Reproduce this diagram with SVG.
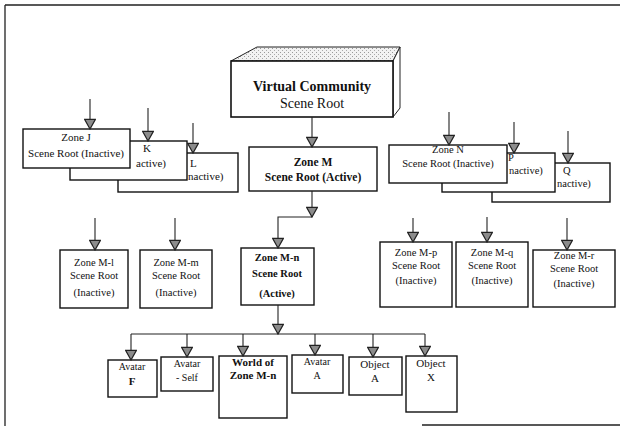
<svg xmlns="http://www.w3.org/2000/svg" width="620" height="426" viewBox="0 0 620 426">
<style>
.box{fill:#fff;stroke:#111;stroke-width:1.4}
.ln{fill:none;stroke:#222;stroke-width:1.1}
.ar{fill:none;stroke:#222;stroke-width:1.1;marker-end:url(#tri)}
text{font-family:"Liberation Serif","Times New Roman",serif;fill:#111;text-anchor:middle}
.st{text-anchor:start}
.t11{font-size:11px}
.t105{font-size:10.5px}
.b{font-weight:bold}
.t10{font-size:10px}
</style>
<defs>
<marker id="tri" markerUnits="userSpaceOnUse" markerWidth="12" markerHeight="12" viewBox="0 0 10 10" refX="9" refY="5" orient="auto">
<path d="M1,0.5 L9,5 L1,9.5 Z" fill="#8c8c8c" stroke="#222" stroke-width="1"/>
</marker>
<pattern id="stip" width="4" height="4" patternUnits="userSpaceOnUse">
<rect width="4" height="4" fill="#f2f2f2"/>
<rect x="0" y="0" width="1" height="1" fill="#999"/>
<rect x="2" y="2" width="1" height="1" fill="#aaa"/>
</pattern>
</defs>
<g id="frame" fill="none" stroke="#222" stroke-width="1.3">
<path d="M5,5 L620,5 M5,5 L5,426 M422,425 L620,425"/>
</g>
<g id="root">
<polygon points="231,61 257,47 400,47 393,61" fill="url(#stip)" stroke="#222" stroke-width="1"/>
<polygon points="393,61 400,47 400,108 393,117" fill="#fff" stroke="#222" stroke-width="1"/>
<rect x="231" y="61" width="162" height="56" fill="#fff" stroke="#111" stroke-width="1.6"/>
<text x="312" y="91" font-size="14" class="b">Virtual Community</text>
<text x="312" y="108" font-size="14">Scene Root</text>
</g>
<g id="zoneL">
<rect class="box" x="118" y="153" width="120" height="39"/>
<text class="t11 st" x="190" y="167">L</text>
<text class="t11 st" x="188" y="180">nactive)</text>
</g>
<g id="zoneK">
<rect class="box" x="70" y="141" width="117" height="39"/>
<text class="t11 st" x="143" y="152">K</text>
<text class="t11 st" x="136" y="167">active)</text>
</g>
<g id="zoneJ">
<rect class="box" x="23" y="129" width="107" height="39"/>
<text class="t11" x="76" y="141">Zone J</text>
<text class="t11" x="76" y="157">Scene Root (Inactive)</text>
</g>
<g id="zoneQ">
<rect class="box" x="492" y="163" width="118" height="39"/>
<text class="t105 st" x="563" y="174">Q</text>
<text class="t105 st" x="557" y="187">nactive)</text>
</g>
<g id="zoneP">
<rect class="box" x="442" y="153" width="113" height="39"/>
<text class="t105 st" x="508" y="161">P</text>
<text class="t105 st" x="509" y="174">nactive)</text>
</g>
<g id="zoneN">
<rect class="box" x="389" y="145" width="118" height="38"/>
<text class="t105" x="448" y="153">Zone N</text>
<text class="t105" x="448" y="167">Scene Root (Inactive)</text>
</g>
<g id="zoneM">
<rect class="box" x="249" y="147" width="128" height="44" stroke-width="1.8"/>
<text class="b" font-size="11.5" x="313" y="166">Zone M</text>
<text class="b" font-size="11.5" x="313" y="181">Scene Root (Active)</text>
</g>
<g id="zoneMl">
<rect class="box" x="60" y="250" width="68" height="58"/>
<text class="t105" x="94" y="266">Zone M-l</text>
<text class="t105" x="94" y="279">Scene Root</text>
<text class="t105" x="94" y="296">(Inactive)</text>
</g>
<g id="zoneMm">
<rect class="box" x="140" y="250" width="72" height="58"/>
<text class="t105" x="176" y="266">Zone M-m</text>
<text class="t105" x="176" y="279">Scene Root</text>
<text class="t105" x="176" y="296">(Inactive)</text>
</g>
<g id="zoneMn">
<rect class="box" x="241" y="248" width="73" height="57" stroke-width="1.8"/>
<text class="t105 b" x="277" y="261">Zone M-n</text>
<text class="t105 b" x="277" y="277">Scene Root</text>
<text class="t105 b" x="277" y="297">(Active)</text>
</g>
<g id="zoneMp">
<rect class="box" x="380" y="242" width="72" height="65"/>
<text class="t105" x="416" y="256">Zone M-p</text>
<text class="t105" x="416" y="269">Scene Root</text>
<text class="t105" x="416" y="284">(Inactive)</text>
</g>
<g id="zoneMq">
<rect class="box" x="456" y="242" width="72" height="65"/>
<text class="t105" x="492" y="256">Zone M-q</text>
<text class="t105" x="492" y="269">Scene Root</text>
<text class="t105" x="492" y="284">(Inactive)</text>
</g>
<g id="zoneMr">
<rect class="box" x="533" y="250" width="82" height="57"/>
<text class="t105" x="574" y="259">Zone M-r</text>
<text class="t105" x="574" y="272">Scene Root</text>
<text class="t105" x="574" y="287">(Inactive)</text>
</g>
<g id="avatarF">
<rect class="box" x="108" y="360" width="49" height="37"/>
<text class="t10" x="132" y="370">Avatar</text>
<text class="t11 b" x="132" y="385">F</text>
</g>
<g id="avatarSelf">
<rect class="box" x="161" y="357" width="52" height="34"/>
<text class="t10" x="187" y="367">Avatar</text>
<text class="t10" x="187" y="381">- Self</text>
</g>
<g id="world">
<rect class="box" x="219" y="356" width="68" height="62"/>
<text class="b" font-size="11" x="253" y="366">World of</text>
<text class="b" font-size="11" x="253" y="379">Zone M-n</text>
</g>
<g id="avatarA">
<rect class="box" x="292" y="355" width="51" height="38"/>
<text class="t10" x="317" y="365">Avatar</text>
<text class="t10" x="317" y="379">A</text>
</g>
<g id="objectA">
<rect class="box" x="349" y="357" width="53" height="38"/>
<text class="t11" x="375" y="368">Object</text>
<text class="t11" x="375" y="382">A</text>
</g>
<g id="objectX">
<rect class="box" x="406" y="356" width="51" height="56"/>
<text class="t11" x="431" y="367">Object</text>
<text class="t11" x="431" y="381">X</text>
</g>
<g id="connectors">
<path class="ar" d="M312,117 L312,147"/>
<path class="ar" d="M90,99 L90,129"/>
<path class="ar" d="M148,108 L148,141"/>
<path class="ar" d="M193,123 L193,153"/>
<path class="ar" d="M449,112 L449,145"/>
<path class="ar" d="M514,122 L514,153"/>
<path class="ar" d="M568,131 L568,163"/>
<path class="ar" d="M95,218 L95,250"/>
<path class="ar" d="M175,218 L175,250"/>
<path class="ar" d="M413,218 L413,242"/>
<path class="ar" d="M487,217 L487,242"/>
<path class="ar" d="M567,218 L567,250"/>
<path class="ar" d="M312,191 L312,217"/>
<path class="ar" d="M312,217 L278,217 L278,248"/>
<path class="ar" d="M278,305 L278,334"/>
<path class="ln" d="M131,334 L425,334"/>
<path class="ar" d="M131,334 L131,360"/>
<path class="ar" d="M187,334 L187,357"/>
<path class="ar" d="M243,334 L243,356"/>
<path class="ar" d="M315,334 L315,355"/>
<path class="ar" d="M373,334 L373,357"/>
<path class="ar" d="M425,334 L425,356"/>
</g>
</svg>
